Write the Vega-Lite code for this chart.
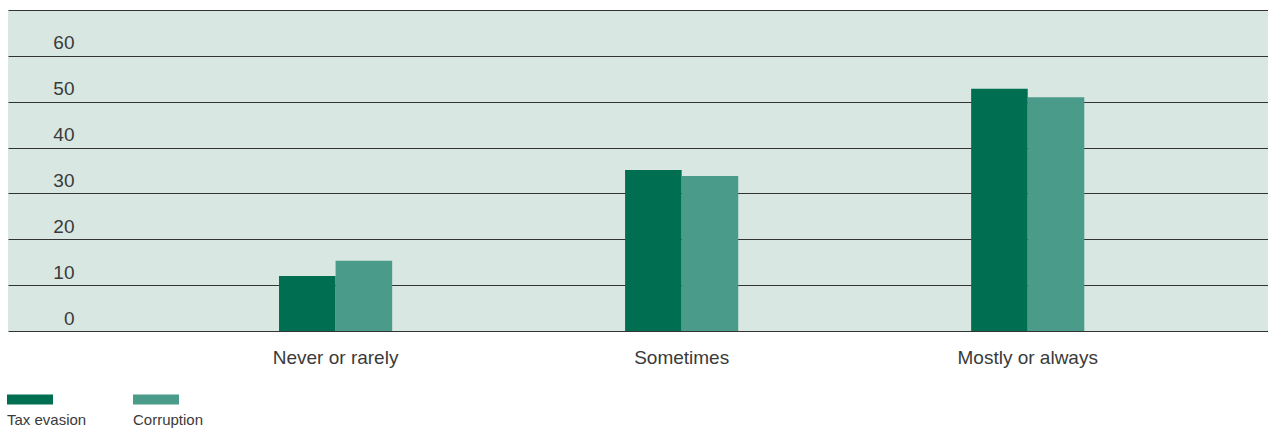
{
  "$schema": "https://vega.github.io/schema/vega-lite/v6.json",
  "width": 1260,
  "height": 321,
  "autosize": {"type": "none"},
  "padding": {"left": 8, "top": 10, "right": 0, "bottom": 97},
  "background": "#ffffff",
  "config": {
    "view": {"fill": "#d9e7e2", "stroke": null},
    "font": "Liberation Sans"
  },
  "data": {
    "values": [
      {"frequency": "Never or rarely", "series": "Tax evasion", "value": 12.0},
      {"frequency": "Never or rarely", "series": "Corruption", "value": 15.3},
      {"frequency": "Sometimes", "series": "Tax evasion", "value": 35.1},
      {"frequency": "Sometimes", "series": "Corruption", "value": 33.8},
      {"frequency": "Mostly or always", "series": "Tax evasion", "value": 52.8},
      {"frequency": "Mostly or always", "series": "Corruption", "value": 51.0}
    ]
  },
  "mark": {"type": "bar"},
  "encoding": {
    "x": {
      "field": "frequency",
      "type": "nominal",
      "sort": ["Never or rarely", "Sometimes", "Mostly or always"],
      "scale": {"paddingInner": 0.673, "paddingOuter": 0.657, "align": 0.596},
      "axis": {
        "title": null,
        "domain": false,
        "ticks": false,
        "tickSize": 0,
        "labelAngle": 0,
        "labelFont": "Liberation Sans",
        "labelFontSize": 19,
        "labelColor": "#3a3a3a",
        "labelBaseline": "alphabetic",
        "labelPadding": 32,
        "grid": false
      }
    },
    "xOffset": {
      "field": "series",
      "type": "nominal",
      "sort": ["Tax evasion", "Corruption"],
      "scale": {"paddingInner": 0, "paddingOuter": 0}
    },
    "y": {
      "field": "value",
      "type": "quantitative",
      "scale": {"domain": [0, 70], "nice": false},
      "axis": {
        "title": null,
        "values": [0, 10, 20, 30, 40, 50, 60, 70],
        "labelExpr": "datum.value == 70 ? '' : datum.label",
        "domain": false,
        "ticks": false,
        "tickSize": 0,
        "grid": true,
        "gridColor": "#333333",
        "gridWidth": 1,
        "gridOpacity": 1,
        "labelAlign": "right",
        "labelPadding": -66,
        "labelBaseline": "alphabetic",
        "labelOffset": -7,
        "labelFont": "Liberation Sans",
        "labelFontSize": 19,
        "labelColor": "#3a3a3a",
        "zindex": 0
      }
    },
    "color": {
      "field": "series",
      "type": "nominal",
      "scale": {"domain": ["Tax evasion", "Corruption"], "range": ["#006f51", "#4a9b89"]},
      "legend": {
        "orient": "none",
        "legendX": -1,
        "legendY": 400,
        "direction": "horizontal",
        "title": null,
        "padding": 0,
        "symbolType": "M-1,-2.55H3.6V-1.55H-1Z",
        "symbolSize": 400,
        "symbolStrokeWidth": 0,
        "symbolOpacity": 1,
        "labelOffset": -20,
        "labelFont": "Liberation Sans",
        "labelFontSize": 15,
        "labelColor": "#3a3a3a",
        "columnPadding": 46
      }
    }
  }
}
